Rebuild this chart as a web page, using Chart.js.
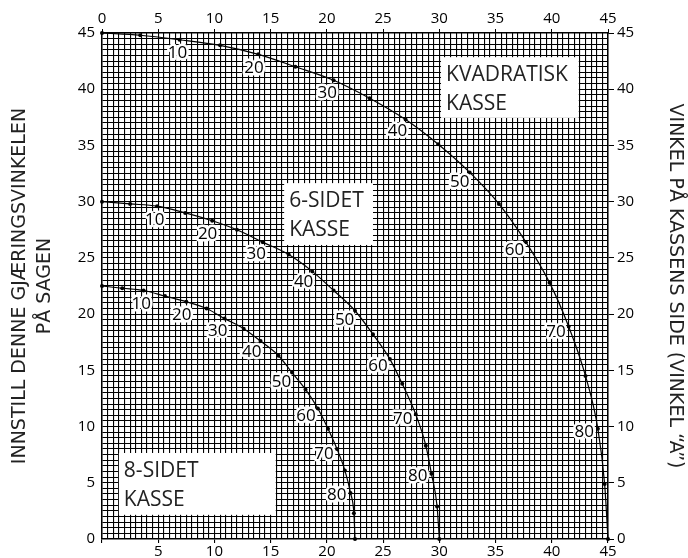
<!DOCTYPE html>
<html>
<head>
<meta charset="utf-8">
<script src="https://cdn.jsdelivr.net/npm/chart.js@4/dist/chart.umd.min.js"></script>
<style>
  body { margin: 0; background: #fff; }
  #wrap { width: 688px; height: 558px; }
</style>
</head>
<body>
<div id="wrap"><canvas id="mycanvas" width="688" height="558"></canvas></div>
<script>
// vinkel A paa kassens side, en prikk per 5 grader
var angleA = [0, 5, 10, 15, 20, 25, 30, 35, 40, 45, 50, 55, 60, 65, 70, 75, 80, 85, 90];

// kvadratisk kasse
var squareX = [0, 3.4, 6.9, 10.5, 13.9, 17.2, 20.6, 23.8, 27.0, 29.9, 32.7, 35.3, 37.7, 39.8, 41.5, 43.0, 44.1, 44.7, 45];
var squareY = [45, 44.8, 44.4, 43.9, 43.1, 42.0, 40.8, 39.2, 37.3, 35.1, 32.6, 29.8, 26.4, 22.8, 18.9, 14.5, 9.8, 4.9, 0];

// 6-sidet kasse
var sixX = [0, 2.5, 4.9, 7.4, 9.8, 12.0, 14.3, 16.6, 18.7, 20.6, 22.5, 24.1, 25.6, 26.7, 27.9, 28.8, 29.3, 29.8, 30];
var sixY = [30, 29.8, 29.6, 29.0, 28.3, 27.5, 26.4, 25.3, 23.8, 22.1, 20.3, 18.2, 16.0, 13.8, 11.1, 8.3, 5.8, 2.9, 0];

// 8-sidet kasse
var eightX = [0, 1.8, 3.7, 5.6, 7.5, 9.3, 10.9, 12.6, 14.1, 15.7, 16.9, 18.1, 19.2, 20.1, 20.9, 21.6, 22.1, 22.4, 22.5];
var eightY = [22.5, 22.3, 22.1, 21.6, 21.1, 20.5, 19.6, 18.7, 17.6, 16.3, 14.8, 13.3, 11.6, 9.8, 8.0, 6.1, 4.1, 2.3, 0];

// tekstbokser
var boxLines = [['KVADRATISK', 'KASSE'], ['6-SIDET', 'KASSE'], ['8-SIDET', 'KASSE']];

var labelledAngles = [10, 20, 30, 40, 50, 60, 70, 80];
var axisTicks = [0, 5, 10, 15, 20, 25, 30, 35, 40, 45];

var leftTitle = ['INNSTILL DENNE GJÆRINGSVINKELEN', 'PÅ SAGEN'];
var rightTitle = 'VINKEL PÅ KASSENS SIDE (VINKEL \u201CA\u201D)';

function pts(xs, ys) {
  var out = [];
  for (var i = 0; i < xs.length; i++) out.push({x: xs[i], y: ys[i]});
  return out;
}

function curve(xs, ys) {
  return {
    data: pts(xs, ys),
    borderColor: '#000',
    borderWidth: 1.2,
    backgroundColor: '#000',
    pointRadius: 2,
    pointBorderWidth: 0,
    cubicInterpolationMode: 'monotone',
    clip: false
  };
}

var FONT = '"Open Sans", "DejaVu Sans", sans-serif';
var TITLEFONT = '"DejaVu Sans", sans-serif';

var pointLabels = {
  id: 'pointLabels',
  afterDatasetsDraw: function(chart) {
    var ctx = chart.ctx;
    var sx = chart.scales.x, sy = chart.scales.y;
    var ox = sx.getPixelForValue(0), oy = sy.getPixelForValue(0);
    ctx.save();
    ctx.font = '17px ' + FONT;
    ctx.textAlign = 'center';
    ctx.textBaseline = 'middle';
    ctx.lineJoin = 'round';
    for (var d = 0; d < chart.data.datasets.length; d++) {
      var meta = chart.getDatasetMeta(d);
      for (var k = 0; k < labelledAngles.length; k++) {
        var i = angleA.indexOf(labelledAngles[k]);
        var p = meta.data[i];
        var dx = p.x - ox, dy = p.y - oy;
        var len = Math.sqrt(dx * dx + dy * dy);
        var lx = p.x - dx / len * 14;
        var ly = p.y - dy / len * 14;
        var txt = String(labelledAngles[k]);
        ctx.strokeStyle = '#fff';
        ctx.lineWidth = 5;
        ctx.strokeText(txt, lx, ly);
        ctx.fillStyle = '#000';
        ctx.fillText(txt, lx, ly);
      }
    }
    ctx.restore();
  }
};

// bokser i dataverdier: [x0, x1, ytop, ybunn]
var boxPos = [[30.15, 42.4, 42.85, 37.45], [16.2, 24.1, 31.65, 26.15], [1.5, 15.45, 7.65, 2.15]];

var textBoxes = {
  id: 'textBoxes',
  afterDraw: function(chart) {
    var ctx = chart.ctx;
    var sx = chart.scales.x, sy = chart.scales.y;
    ctx.save();
    for (var b = 0; b < boxLines.length; b++) {
      var r = boxPos[b];
      var x0 = sx.getPixelForValue(r[0]), x1 = sx.getPixelForValue(r[1]);
      var y0 = sy.getPixelForValue(r[2]), y1 = sy.getPixelForValue(r[3]);
      ctx.fillStyle = '#fff';
      ctx.fillRect(x0, y0, x1 - x0, y1 - y0);
      ctx.fillStyle = '#222';
      ctx.font = '21px ' + FONT;
      ctx.textAlign = 'left';
      ctx.textBaseline = 'alphabetic';
      ctx.fillText(boxLines[b][0], x0 + 5, y0 + 24);
      ctx.fillText(boxLines[b][1], x0 + 5, y0 + 53);
    }
    ctx.restore();
  }
};

function fixSize(w, h) {
  return function(scale) {
    if (w != null) scale.width = w;
    if (h != null) scale.height = h;
  };
}

var tickFont = {family: FONT, size: 15};

var chart = new Chart(document.getElementById('mycanvas'), {
  type: 'line',
  data: {
    datasets: [curve(squareX, squareY), curve(sixX, sixY), curve(eightX, eightY)]
  },
  plugins: [pointLabels, textBoxes],
  options: {
    responsive: false,
    animation: false,
    devicePixelRatio: 1,
    layout: {padding: 0},
    plugins: {legend: {display: false}, tooltip: {enabled: false}},
    scales: {
      x: {
        type: 'linear', position: 'bottom', min: 0, max: 45,
        afterFit: fixSize(null, 19),
        border: {color: '#000', width: 1.5},
        grid: {
          color: '#000', lineWidth: 1.1, tickLength: 4,
          tickColor: function(c) { return c.tick && c.tick.value % 5 === 0 ? '#000' : 'rgba(0,0,0,0)'; }
        },
        ticks: {
          stepSize: 0.5, autoSkip: false, maxRotation: 0, padding: 0,
          color: '#000', font: tickFont,
          callback: function(v) { return (v % 5 === 0 && v !== 0) ? v : ''; }
        }
      },
      x2: {
        type: 'linear', position: 'top', min: 0, max: 45,
        afterFit: fixSize(null, 33),
        border: {color: '#000', width: 1.5},
        grid: {drawOnChartArea: false, color: '#000', tickLength: 4},
        afterBuildTicks: function(scale) { scale.ticks = axisTicks.map(function(v) { return {value: v}; }); },
        ticks: {autoSkip: false, maxRotation: 0, padding: 1, color: '#000', font: tickFont}
      },
      y: {
        type: 'linear', position: 'left', min: 0, max: 45,
        afterFit: fixSize(102, null),
        border: {color: '#000', width: 1.5},
        grid: {color: '#000', lineWidth: 1.1, tickLength: 3, tickColor: 'rgba(0,0,0,0)'},
        ticks: {
          stepSize: 0.5, autoSkip: false, padding: 4,
          color: '#000', font: tickFont,
          callback: function(v) { return v % 5 === 0 ? v : ''; }
        },
        title: {
          display: true, text: leftTitle, color: '#222',
          font: {family: TITLEFONT, size: 19, lineHeight: 1.35}, padding: {top: 7}
        }
      },
      y2: {
        type: 'linear', position: 'right', min: 0, max: 45,
        afterFit: fixSize(80, null),
        border: {color: '#000', width: 1.5},
        grid: {drawOnChartArea: false, color: '#000', tickLength: 6},
        afterBuildTicks: function(scale) { scale.ticks = axisTicks.map(function(v) { return {value: v}; }); },
        ticks: {autoSkip: false, padding: 3, color: '#000', font: tickFont},
        title: {
          display: true, text: rightTitle, color: '#222',
          font: {family: TITLEFONT, size: 19, lineHeight: 1.35}, padding: {top: 0}
        }
      }
    }
  }
});
</script>
</body>
</html>
